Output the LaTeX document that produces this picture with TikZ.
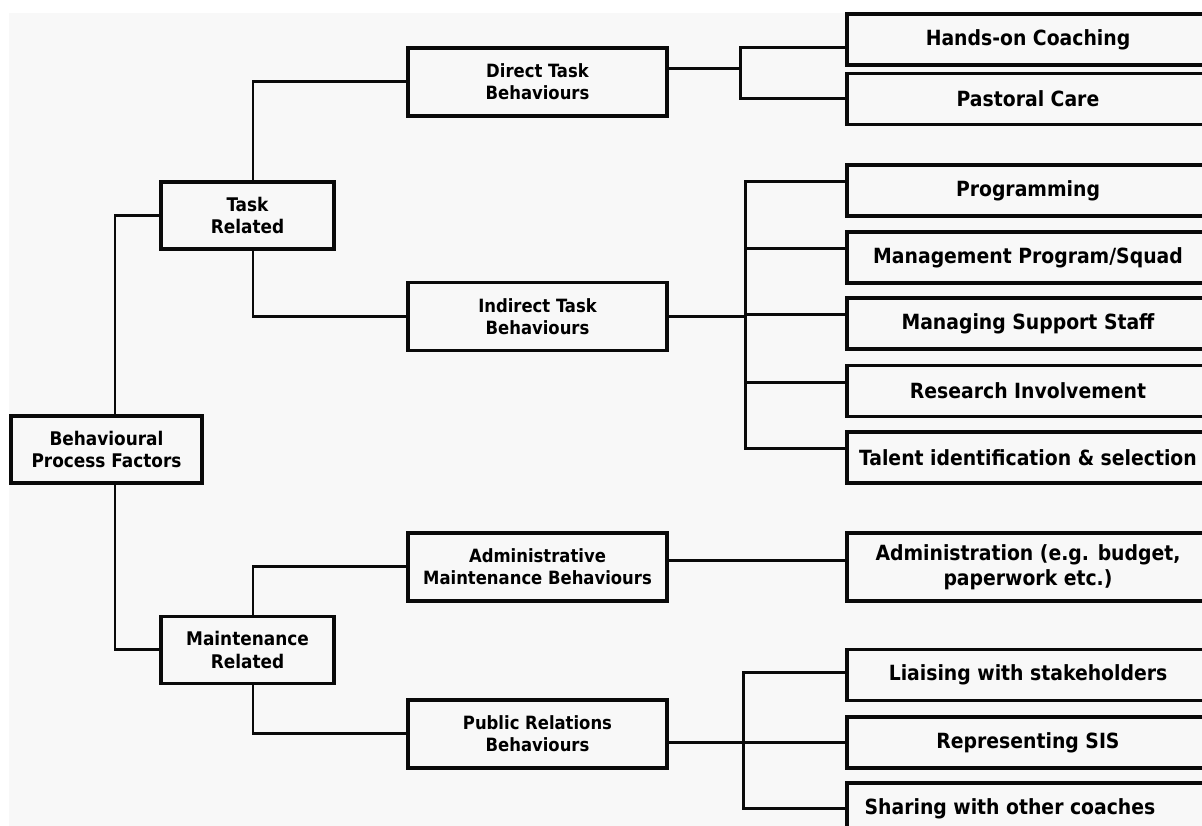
\documentclass[tikz,border=0pt]{standalone}
\usepackage{fontspec}
\setmainfont{DejaVu Sans Condensed}
\usepackage{tikz}
\usetikzlibrary{positioning, calc}
\definecolor{paper}{HTML}{F8F8F8}
\definecolor{ink}{HTML}{0A0A0A}
\pgfdeclarelayer{background}
\pgfsetlayers{background,main}

\begin{document}
\begin{tikzpicture}[
    % 1. ESTILO BASE: borde negro grueso, texto en negrita centrado
    base/.style={
        draw=ink, line width=1.8pt, fill=paper, align=center, inner sep=2pt
    },
    % 2. NIVELES DEL ARBOL (raiz, grupos, conductas, factores)
    root/.style={base, minimum width=3.82cm, minimum height=1.34cm,
        font=\bfseries\fontsize{10.7}{13}\selectfont},
    group/.style={base, minimum width=3.46cm, minimum height=1.34cm,
        font=\bfseries\fontsize{10.7}{13}\selectfont},
    behav/.style={base, minimum width=5.18cm, minimum height=1.36cm,
        font=\bfseries\fontsize{10.4}{12.5}\selectfont},
    factor/.style={base, minimum width=7.24cm, minimum height=1.02cm,
        font=\bfseries\fontsize{11.9}{14.2}\selectfont},
    % 3. CONECTORES EN ANGULO RECTO
    link/.style={draw=ink, line width=1.7pt}
]
    % --- FONDO (margen blanco arriba e izquierda) ---
    \useasboundingbox (0,0) rectangle (24.04,16.52);
    \begin{pgfonlayer}{background}
        \fill[white] (0,0) rectangle (24.04,16.52);
        \fill[paper] (0.18,0) rectangle (24.04,16.26);
    \end{pgfonlayer}

    % --- COLUMNA 1: Raiz ---
    \node[root] (bpf) at (2.13, 7.53) {Behavioural\\Process Factors};

    % --- COLUMNA 2: Grupos ---
    \node[group] (task)  at (4.95, 12.21) {Task\\Related};
    \node[group] (maint) at (4.95,  3.52) {Maintenance\\Related};

    % --- COLUMNA 3: Conductas ---
    \node[behav] (dtb) at (10.75, 14.88) {Direct Task\\Behaviours};
    \node[behav] (itb) at (10.75, 10.19) {Indirect Task\\Behaviours};
    \node[behav] (amb) at (10.75,  5.18) {Administrative\\Maintenance Behaviours};
    \node[behav] (prb) at (10.75,  1.84) {Public Relations\\Behaviours};

    % --- COLUMNA 4: Factores (cortados por el borde derecho) ---
    \node[factor] (coach)    at (20.56, 15.73) {Hands-on Coaching};
    \node[factor] (care)     at (20.56, 14.54) {Pastoral Care};
    \node[factor] (prog)     at (20.56, 12.71) {Programming};
    \node[factor] (squad)    at (20.56, 11.37) {Management Program/Squad};
    \node[factor] (staff)    at (20.56, 10.05) {Managing Support Staff};
    \node[factor] (research) at (20.56,  8.70) {Research Involvement};
    \node[factor] (talent)   at (20.56,  7.37) {Talent identification \& selection};
    \node[factor, minimum height=1.36cm] (admin) at (20.56, 5.18)
        {Administration (e.g. budget,\\paperwork etc.)};
    \node[factor] (liaise)   at (20.56,  3.02) {Liaising with stakeholders};
    \node[factor] (sis)      at (20.56,  1.67) {Representing SIS};
    \node[factor] (share)    at (20.56,  0.35) {Sharing with other coaches\hspace*{0.72cm}};

    % ==========================================
    % CONEXIONES (lineas rectas con codos)
    % ==========================================

    % Raiz -> Grupos
    \draw[link] ($(bpf.north)+(0.17,0)$) |- (task.west);
    \draw[link] ($(bpf.south)+(0.17,0)$) |- (maint.west);

    % Grupos -> Conductas
    \draw[link] ($(task.north)+(0.11,0)$)  |- (dtb.west);
    \draw[link] ($(task.south)+(0.11,0)$)  |- (itb.west);
    \draw[link] ($(maint.north)+(0.11,0)$) |- (amb.west);
    \draw[link] ($(maint.south)+(0.11,0)$) |- (prb.west);

    % Conductas directas -> Factores
    \coordinate (busD) at (14.80, 15.14);
    \draw[link] (dtb.east |- busD) -- (busD);
    \draw[link] ($(coach.west)+(0,-0.17)$) -| (busD) |- (care.west);

    % Conductas indirectas -> Factores
    \coordinate (busI) at (14.90, 10.19);
    \draw[link] (itb.east) -- (busI);
    \draw[link] ($(prog.west)+(0,0.17)$) -| (busI) |- ($(talent.west)+(0,0.17)$);
    \foreach \f in {squad, staff, research}
        \draw[link] ($(\f.west)+(0,0.17)$) coordinate (p) -- (p -| busI);

    % Conductas administrativas -> Factores
    \draw[link] ($(amb.east)+(0,0.12)$) -- ($(admin.west)+(0,0.12)$);

    % Relaciones publicas -> Factores
    \coordinate (busP) at (14.86, 1.68);
    \draw[link] (prb.east |- sis.west) -- (sis.west);
    \draw[link] ($(liaise.west)+(0,0.04)$) -| (busP) |- (share.west);

\end{tikzpicture}
\end{document}
